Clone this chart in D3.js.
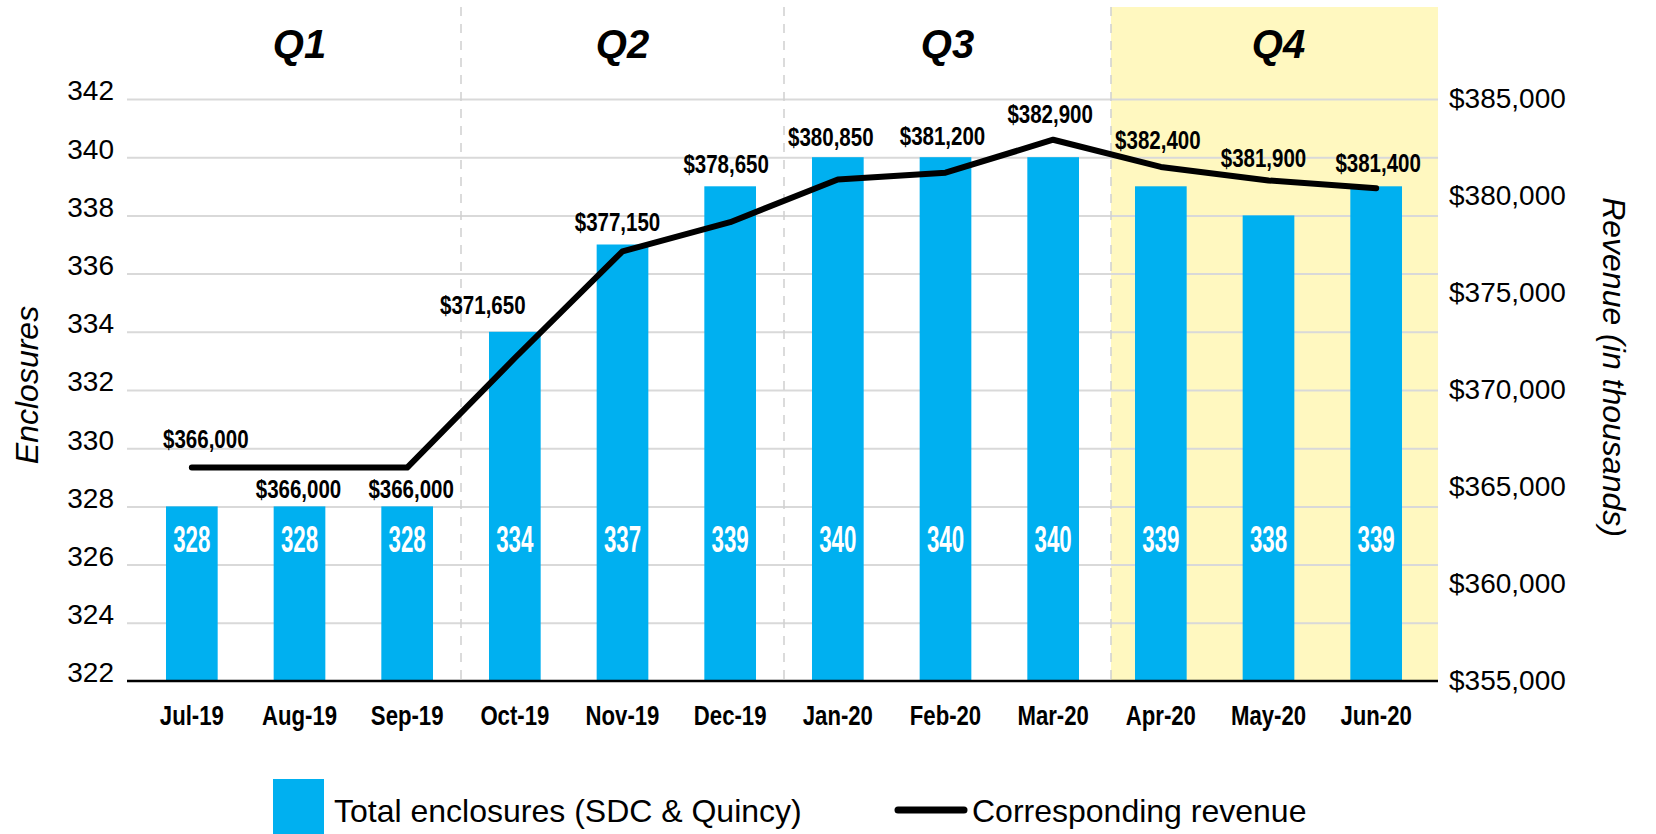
<!DOCTYPE html>
<html>
<head>
<meta charset="utf-8">
<script src="https://cdn.jsdelivr.net/npm/d3@7"></script>
<style>
	body { margin: 0; background: #fff; }
	svg text { font-family: "Liberation Sans", Arial, sans-serif; }
</style>
</head>
<body>
<div id="chart"></div>
<script>
(function(){
	// data
	var months = ["Jul-19","Aug-19","Sep-19","Oct-19","Nov-19","Dec-19","Jan-20","Feb-20","Mar-20","Apr-20","May-20","Jun-20"];
	var enclosures = [328,328,328,334,337,339,340,340,340,339,338,339];
	// where the line is drawn (right axis)
	var revenue = [366000,366000,366000,371650,377150,378650,380850,381200,382900,381500,380800,380400];
	// what the data labels say
	var revenueLabels = [366000,366000,366000,371650,377150,378650,380850,381200,382900,382400,381900,381400];
	var quarters = ["Q1","Q2","Q3","Q4"];
	var leftTicks = [322,324,326,328,330,332,334,336,338,340,342];
	var rightTicks = [355000,360000,365000,370000,375000,380000,385000];

	// manual placement of the revenue labels (dx, dy from the point)
	var labelNudge = [[14,-28],[-1,22],[4,22],[-32,-53],[-5,-29],[-4,-58],[-7,-42],[-3,-36],[-3,-25],[-3,-27],[-5,-22],[2,-25]];

	var width = 1656,
		height = 834;

	var plotLeft = 127,
		plotRight = 1438,
		plotTop = 7;

	var svg = d3.select("#chart")
		.append("svg")
		.attr("width", width)
		.attr("height", height)

	var x = d3.scaleBand()
		.domain(months)
		.range([138, 1430])
		.paddingInner(0.52)
		.paddingOuter(0.26)

	var yL = d3.scaleLinear().domain([322, 342]).range([681, 99])
	var yR = d3.scaleLinear().domain([355000, 385000]).range([681, 99])

	var step = x.step();
	var gap = step * x.paddingInner() / 2;

	// squeeze text to imitate a narrow face
	function narrow(sel, k) {
		sel.each(function(){
			var w = this.getComputedTextLength();
			d3.select(this).attr("textLength", w * k).attr("lengthAdjust", "spacingAndGlyphs");
		})
	}

	// quarter edges
	var qEdges = [x(months[0]) - gap, x(months[3]) - gap, x(months[6]) - gap, x(months[9]) - gap + 4, plotRight];

	// Q4 highlight
	svg.append("rect")
		.attr("x", qEdges[3])
		.attr("y", plotTop)
		.attr("width", plotRight - qEdges[3])
		.attr("height", yL(322) - plotTop)
		.attr("fill", "#fff8c0")

	// left axis + gridlines
	var gLeft = svg.append("g")
		.attr("transform", "translate(" + plotLeft + ",0)")
		.call(d3.axisLeft(yL).tickValues(leftTicks).tickSize(-(plotRight - plotLeft)).tickPadding(13))
	gLeft.select(".domain").remove()
	gLeft.selectAll(".tick line")
		.attr("stroke", "#d9d9d9")
		.attr("stroke-width", 2)
		.attr("opacity", function(d){ return d === 322 ? 0 : 1; })
	gLeft.selectAll(".tick text")
		.attr("font-size", 28)
		.attr("font-family", "Liberation Sans, Arial, sans-serif")
		.attr("fill", "#000")
		.attr("y", -8)

	// right axis labels
	var gRight = svg.append("g")
		.attr("transform", "translate(" + plotRight + ",0)")
		.call(d3.axisRight(yR).tickValues(rightTicks).tickSize(0).tickPadding(11).tickFormat(d3.format("$,")))
	gRight.select(".domain").remove()
	gRight.selectAll(".tick text")
		.attr("font-size", 28)
		.attr("font-family", "Liberation Sans, Arial, sans-serif")
		.attr("fill", "#000")

	// quarter dividers
	svg.selectAll(".qline")
		.data(qEdges.slice(1, 4))
		.enter().append("line")
		.attr("class", "qline")
		.attr("x1", function(d){ return d; })
		.attr("x2", function(d){ return d; })
		.attr("y1", plotTop)
		.attr("y2", yL(322))
		.attr("stroke", "#d0d0d0")
		.attr("stroke-width", 1.5)
		.attr("stroke-dasharray", "9,8")

	// quarter titles
	svg.selectAll(".qlabel")
		.data(quarters)
		.enter().append("text")
		.attr("class", "qlabel")
		.attr("x", function(d, i){ return (qEdges[i] + qEdges[i + 1]) / 2 + (i === 3 ? 4 : 0); })
		.attr("y", 58)
		.attr("text-anchor", "middle")
		.attr("font-size", 40)
		.attr("font-weight", "bold")
		.attr("font-style", "italic")
		.text(function(d){ return d; })

	// bars
	svg.selectAll(".bar")
		.data(enclosures)
		.enter().append("rect")
		.attr("class", "bar")
		.attr("x", function(d, i){ return x(months[i]); })
		.attr("y", function(d){ return yL(d); })
		.attr("width", x.bandwidth())
		.attr("height", function(d){ return yL(322) - yL(d); })
		.attr("fill", "#00b0f0")

	// bar values
	svg.selectAll(".barlabel")
		.data(enclosures)
		.enter().append("text")
		.attr("class", "barlabel")
		.attr("x", function(d, i){ return x(months[i]) + x.bandwidth() / 2; })
		.attr("y", 552)
		.attr("text-anchor", "middle")
		.attr("font-size", 36)
		.attr("font-weight", "bold")
		.attr("fill", "#fff")
		.text(function(d){ return d; })
		.call(narrow, 0.62)

	// baseline
	svg.append("line")
		.attr("x1", plotLeft)
		.attr("x2", plotRight)
		.attr("y1", yL(322))
		.attr("y2", yL(322))
		.attr("stroke", "#000")
		.attr("stroke-width", 2.5)

	// bottom axis
	var gBottom = svg.append("g")
		.attr("transform", "translate(0," + yL(322) + ")")
		.call(d3.axisBottom(x).tickSize(0).tickPadding(25))
	gBottom.select(".domain").remove()
	gBottom.selectAll(".tick text")
		.attr("font-size", 27)
		.attr("font-weight", "bold")
		.attr("font-family", "Liberation Sans, Arial, sans-serif")
		.attr("fill", "#000")
		.call(narrow, 0.82)

	// revenue line
	var line = d3.line()
		.x(function(d, i){ return x(months[i]) + x.bandwidth() / 2; })
		.y(function(d){ return yR(d); })

	svg.append("path")
		.datum(revenue)
		.attr("d", line)
		.attr("fill", "none")
		.attr("stroke", "#000")
		.attr("stroke-width", 6)
		.attr("stroke-linejoin", "round")
		.attr("stroke-linecap", "round")

	// revenue labels
	svg.selectAll(".revlabel")
		.data(revenueLabels)
		.enter().append("text")
		.attr("class", "revlabel")
		.attr("x", function(d, i){ return x(months[i]) + x.bandwidth() / 2 + labelNudge[i][0]; })
		.attr("y", function(d, i){ return yR(revenue[i]) + labelNudge[i][1]; })
		.attr("dy", "0.35em")
		.attr("text-anchor", "middle")
		.attr("font-size", 25)
		.attr("font-weight", "bold")
		.text(d3.format("$,"))
		.call(narrow, 0.82)

	// axis titles
	svg.append("text")
		.attr("transform", "translate(27,385) rotate(-90)")
		.attr("text-anchor", "middle")
		.attr("dy", "0.35em")
		.attr("font-size", 32)
		.attr("font-style", "italic")
		.text("Enclosures")

	svg.append("text")
		.attr("transform", "translate(1614,367) rotate(90)")
		.attr("text-anchor", "middle")
		.attr("dy", "0.35em")
		.attr("font-size", 32)
		.attr("font-style", "italic")
		.text("Revenue (in thousands)")

	// legend
	var legend = svg.append("g")

	legend.append("rect")
		.attr("x", 273)
		.attr("y", 779)
		.attr("width", 51)
		.attr("height", 60)
		.attr("fill", "#00b0f0")

	legend.append("text")
		.attr("x", 334)
		.attr("y", 822)
		.attr("font-size", 32)
		.text("Total enclosures (SDC & Quincy)")

	legend.append("line")
		.attr("x1", 898)
		.attr("x2", 964)
		.attr("y1", 810)
		.attr("y2", 810)
		.attr("stroke", "#000")
		.attr("stroke-width", 7)
		.attr("stroke-linecap", "round")

	legend.append("text")
		.attr("x", 972)
		.attr("y", 822)
		.attr("font-size", 32)
		.text("Corresponding revenue")

})();
</script>
</body>
</html>
